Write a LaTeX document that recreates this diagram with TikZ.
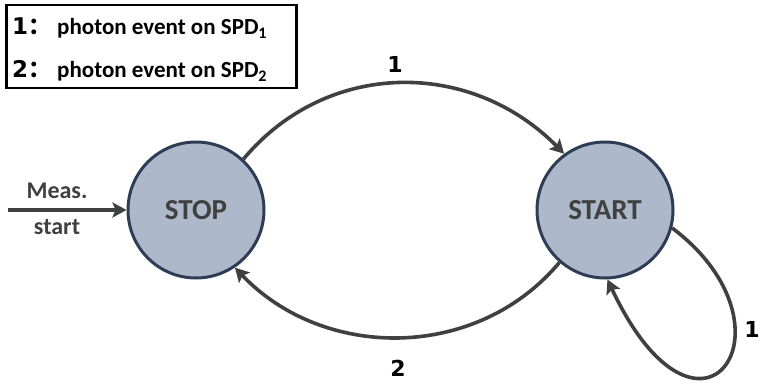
\documentclass[tikz,border=0pt]{standalone}
\usepackage{fontspec}
\setmainfont{Carlito}
\newfontfamily\dv{DejaVu Sans}
\newfontfamily\cjk{Noto Sans CJK SC}
\usetikzlibrary{arrows.meta}
\definecolor{statefill}{HTML}{ADB9CA}
\definecolor{stateline}{HTML}{2E3D55}
\definecolor{statetext}{HTML}{404040}
\definecolor{arrowc}{HTML}{404040}
\tikzset{
  state/.style={circle, draw=stateline, fill=statefill, line width=3pt, minimum size=136pt, inner sep=0pt,
    font=\fontsize{29}{32}\selectfont\bfseries, text=statetext},
  arr/.style={draw=arrowc, line width=3.6pt, -{Stealth[length=14pt,width=15pt,inset=3pt]}},
  numlabel/.style={font=\dv\fontsize{22}{24}\selectfont\bfseries, text=black, inner sep=0pt},
  legendline/.style={font=\fontsize{23}{25}\selectfont\bfseries, anchor=west, inner sep=0pt},
  sidetext/.style={font=\fontsize{24}{26}\selectfont\bfseries, text=statetext, inner sep=0pt},
  legendbox/.style={draw=black, line width=2.5pt, anchor=north west, minimum width=290pt, minimum height=83pt, inner sep=0pt}
}
\begin{document}
\begin{tikzpicture}[x=1pt,y=-1pt]
\useasboundingbox (0,0) rectangle (760,387);
\node[legendbox] (legend) at (5,4) {};
\node[legendline] (l1) at (12,28) {{\dv 1}{\cjk ：}\hspace{6pt}photon event on SPD$_{\mathbf 1}$};
\node[legendline] (l2) at (12,71) {{\dv 2}{\cjk ：}\hspace{6pt}photon event on SPD$_{\mathbf 2}$};

\node[state] (stop) at (196,210) {STOP};
\node[state] (start) at (605,210) {START};

\coordinate (in) at (8,210);
\draw[arr] (in) -- (stop.west);
\node[sidetext] (meas) at (57,191) {Meas.};
\node[sidetext] (mstart) at (57,227) {start};

\draw[arr] (stop.47) .. controls (327,59) and (471,59) .. (start.126);
\node[numlabel] (n1) at (395,64) {1};

\draw[arr] (start.229) .. controls (477,361) and (324,361) .. (stop.304);
\node[numlabel] (n2) at (398,368) {2};

\draw[arr] (start.-15) .. controls (805,328) and (700,476) .. (start.-88);
\node[numlabel] (n3) at (752,329) {1};
\end{tikzpicture}
\end{document}
